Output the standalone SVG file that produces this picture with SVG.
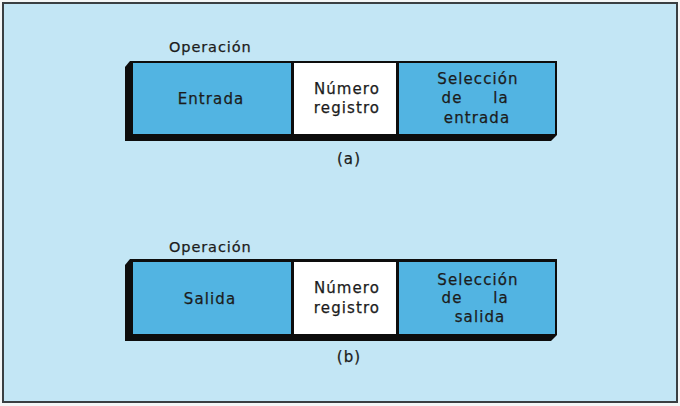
<svg xmlns="http://www.w3.org/2000/svg" width="680" height="406" viewBox="0 0 680 406">
<style>
.t{font-family:"DejaVu Sans","Liberation Sans",sans-serif;font-size:15px;fill:#1c1c1c;stroke:#1c1c1c;stroke-width:0.25;letter-spacing:1.1px;text-anchor:middle}
.l{font-family:"DejaVu Sans","Liberation Sans",sans-serif;font-size:14.5px;fill:#1c1c1c;stroke:#1c1c1c;stroke-width:0.25;letter-spacing:0.9px}
.sh{fill:#0d0d0d}
.b{fill:#52b4e2}
.w{fill:#ffffff}
</style>
<rect x="0" y="0" width="680" height="406" fill="#f4f6f6"/>
<rect x="3" y="3" width="674" height="399" fill="#c3e6f5" stroke="#3a3f42" stroke-width="2"/>
<g id="instr-a">
<text class="l" x="169" y="52">Operación</text>
<path class="sh" d="M130,61 L125,67 L125,141 L551,141 L557,135 L557,61 Z"/>
<rect class="b" x="133" y="63" width="158" height="71"/>
<rect class="w" x="294" y="63" width="102" height="71"/>
<rect class="b" x="399" y="63" width="156" height="71"/>
<text class="t" x="211" y="104">Entrada</text>
<text class="t" x="347" y="94">Número</text>
<text class="t" x="347" y="113">registro</text>
<text class="t" x="478" y="84">Selección</text>
<text class="t" x="452" y="103">de</text>
<text class="t" x="501" y="103">la</text>
<text class="t" x="477" y="123">entrada</text>
<text class="t" x="349" y="164">(a)</text>
</g>
<g id="instr-b">
<text class="l" x="169" y="252">Operación</text>
<path class="sh" d="M130,259 L125,265 L125,341 L551,341 L557,335 L557,259 Z"/>
<rect class="b" x="133" y="262" width="158" height="72"/>
<rect class="w" x="294" y="262" width="102" height="72"/>
<rect class="b" x="399" y="262" width="156" height="72"/>
<text class="t" x="210" y="304">Salida</text>
<text class="t" x="347" y="293">Número</text>
<text class="t" x="347" y="313">registro</text>
<text class="t" x="478" y="285">Selección</text>
<text class="t" x="452" y="303">de</text>
<text class="t" x="501" y="303">la</text>
<text class="t" x="480" y="322">salida</text>
<text class="t" x="349" y="362">(b)</text>
</g>
<g id="connectors"/>
</svg>
